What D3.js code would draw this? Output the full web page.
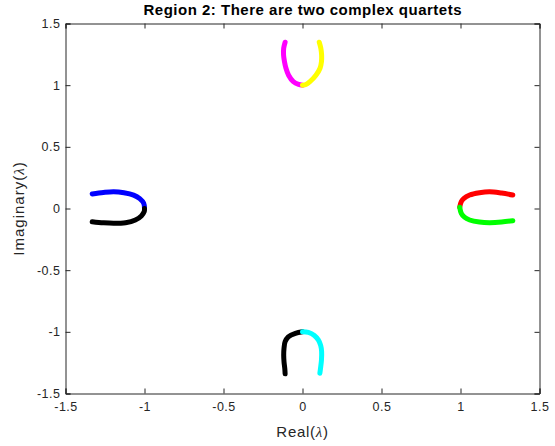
<!DOCTYPE html>
<html><head><meta charset="utf-8">
<script src="https://cdn.jsdelivr.net/npm/d3@7"></script>
<style>body{margin:0;background:#fff}svg{display:block}text{font-family:"Liberation Sans",Arial,sans-serif}</style>
</head><body><svg id="c" width="555" height="446"></svg>
<script>
const title = "Region 2: There are two complex quartets";
const xLabel = "Real(", yLabel = "Imaginary(", lam = "λ";
const xTicks = [-1.5,-1,-0.5,0,0.5,1,1.5];
const yTicks = [-1.5,-1,-0.5,0,0.5,1,1.5];
const topMagenta = [[-0.110,1.348],[-0.119,1.30],[-0.120,1.245],[-0.114,1.19],[-0.105,1.139],[-0.088,1.08],[-0.058,1.028],[-0.025,1.006],[0,1.0]];
const topYellow  = [[0,1.0],[0.022,1.006],[0.047,1.028],[0.085,1.08],[0.111,1.137],[0.120,1.19],[0.121,1.245],[0.116,1.30],[0.106,1.348]];
const botBlack   = [[0,-1.0],[-0.045,-1.012],[-0.090,-1.040],[-0.110,-1.08],[-0.117,-1.134],[-0.119,-1.19],[-0.117,-1.242],[-0.112,-1.30],[-0.110,-1.34]];
const botCyan    = [[0,-1.0],[0.037,-1.005],[0.075,-1.03],[0.100,-1.066],[0.115,-1.11],[0.121,-1.161],[0.120,-1.23],[0.114,-1.296],[0.110,-1.335]];
const leftBlue   = [[-1.331,0.118],[-1.26,0.130],[-1.195,0.136],[-1.13,0.128],[-1.069,0.109],[-1.03,0.08],[-1.005,0.042],[-1.0,0.0]];
const leftBlack  = [[-1.0,0],[-1.002,-0.026],[-1.02,-0.06],[-1.058,-0.093],[-1.12,-0.115],[-1.195,-0.120],[-1.26,-0.116],[-1.331,-0.107]];
const rightRed   = [[1.331,0.109],[1.26,0.125],[1.184,0.136],[1.12,0.128],[1.058,0.109],[1.02,0.08],[1.005,0.055],[0.995,0.01]];
const rightGreen = [[0.995,0.01],[1.005,-0.039],[1.025,-0.07],[1.058,-0.093],[1.12,-0.110],[1.184,-0.115],[1.26,-0.110],[1.331,-0.099]];
const series = [
  {d:topMagenta,c:"#ff00ff"},{d:topYellow,c:"#ffff00"},
  {d:botBlack,c:"#000000"},{d:botCyan,c:"#00ffff"},
  {d:leftBlue,c:"#0000ff"},{d:leftBlack,c:"#000000"},
  {d:rightRed,c:"#ff0000"},{d:rightGreen,c:"#00ff00"}
];
const L=65.5,R=539.5,T=23.5,B=393.5;
const svg=d3.select("#c");
const x=d3.scaleLinear().domain([-1.5,1.5]).range([L,R]);
const y=d3.scaleLinear().domain([-1.5,1.5]).range([B,T]);
const line=d3.line().x(d=>x(d[0])).y(d=>y(d[1])).curve(d3.curveCatmullRom);
svg.selectAll("path.s").data(series).join("path").attr("class","s")
  .attr("d",s=>line(s.d)).attr("fill","none").attr("stroke",s=>s.c)
  .attr("stroke-width",5).attr("stroke-linecap","round").attr("stroke-linejoin","round");
const axc="#262626";
const fmt=d=>String(d);
const gx=svg.append("g").attr("transform",`translate(0,${B})`)
  .call(d3.axisBottom(x).tickValues(xTicks).tickSize(-5).tickPadding(9).tickFormat(fmt));
const gxt=svg.append("g").attr("transform",`translate(0,${T})`)
  .call(d3.axisTop(x).tickValues(xTicks).tickSize(-5).tickFormat(""));
const gy=svg.append("g").attr("transform",`translate(${L},0)`)
  .call(d3.axisLeft(y).tickValues(yTicks).tickSize(-5).tickPadding(5).tickFormat(fmt));
const gyr=svg.append("g").attr("transform",`translate(${R},0)`)
  .call(d3.axisRight(y).tickValues(yTicks).tickSize(-5).tickFormat(""));
[gx,gxt,gy,gyr].forEach(g=>{
  g.select(".domain").attr("stroke",axc).attr("stroke-width",1);
  g.selectAll(".tick line").attr("stroke",axc);
  g.selectAll(".tick text").attr("fill",axc).style("font-size","12.5px").style("letter-spacing","0.5px")
   .style("font-family","'Liberation Sans',Arial,sans-serif");
});
svg.append("text").attr("x",(L+R)/2).attr("y",15).attr("text-anchor","middle")
  .attr("textLength",318).attr("lengthAdjust","spacing")
  .style("font-size","15px").style("font-weight","bold").attr("fill","#000").text(title);
const xl=svg.append("text").attr("x",(L+R)/2).attr("y",437).attr("text-anchor","middle")
  .style("font-size","15px").style("letter-spacing","0.7px").attr("fill",axc);
xl.append("tspan").text(xLabel);
xl.append("tspan").style("font-family","'Liberation Serif',serif").style("font-style","italic").text(lam);
xl.append("tspan").text(")");
const yl=svg.append("text").attr("transform",`translate(24,${(T+B)/2}) rotate(-90)`).attr("text-anchor","middle")
  .style("font-size","15px").style("letter-spacing","1px").attr("fill",axc);
yl.append("tspan").text(yLabel);
yl.append("tspan").style("font-family","'Liberation Serif',serif").style("font-style","italic").text(lam);
yl.append("tspan").text(")");
</script></body></html>
